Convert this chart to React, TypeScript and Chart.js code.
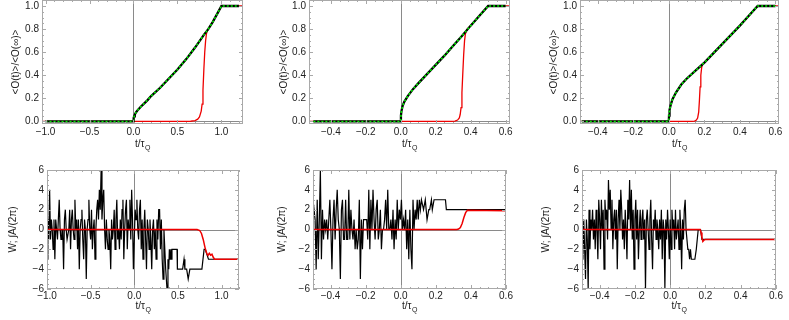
import React, { useEffect, useRef } from "react";
import { Chart, registerables } from "chart.js";
Chart.register(...registerables);

const FONT = "'Liberation Sans', Arial, sans-serif";
const TEXT = "#222222";
const FRAME = "#a9a9a9";
const AXIS = "#8a8a8a";
const RED = "#ee0000";
const GREEN = "#00ee00";
const BLACK = "#000000";

// ---------- tick labels ----------
const TOP_Y_TICKS = [0, 0.2, 0.4, 0.6, 0.8, 1.0];
const BOT_Y_TICKS = [-6, -4, -2, 0, 2, 4, 6];
const X_TICKS_WIDE = [-1.0, -0.5, 0, 0.5, 1.0];
const X_TICKS_NARROW = [-0.4, -0.2, 0, 0.2, 0.4, 0.6];

// ---------- top row: <O(t)>/<O(inf)> ----------
// panel 1
const T1_EXACT_T = [-1.0, 0, 0.001, 0.003, 0.008, 0.015, 0.03, 0.05, 0.08, 0.12, 0.16, 0.2, 0.3, 0.4, 0.5, 0.6, 0.7, 0.8, 0.85, 0.9, 0.95, 1.0, 1.2];
const T1_EXACT_V = [0, 0, 0.02, 0.03, 0.045, 0.06, 0.08, 0.1, 0.125, 0.155, 0.185, 0.22, 0.29, 0.37, 0.45, 0.54, 0.64, 0.75, 0.8, 0.86, 0.93, 1.0, 1.0];
const T1_SIM_T = [-1.05, 0.6, 0.65, 0.7, 0.73, 0.75, 0.77, 0.78, 0.79, 0.8, 0.81, 0.82, 0.83, 0.84, 0.85, 0.9, 0.95, 1.0, 1.25];
const T1_SIM_V = [0, 0, 0.002, 0.008, 0.02, 0.04, 0.09, 0.15, 0.27, 0.45, 0.6, 0.7, 0.76, 0.79, 0.8, 0.86, 0.93, 1.0, 1.0];

// panel 2
const T2_EXACT_T = [-0.5, 0, 0.001, 0.004, 0.01, 0.02, 0.04, 0.07, 0.1, 0.15, 0.2, 0.25, 0.3, 0.35, 0.4, 0.45, 0.5, 0.6];
const T2_EXACT_V = [0, 0, 0.05, 0.09, 0.13, 0.17, 0.22, 0.28, 0.33, 0.41, 0.49, 0.57, 0.655, 0.74, 0.83, 0.915, 1.0, 1.0];
const T2_SIM_T = [-0.53, 0.29, 0.31, 0.325, 0.335, 0.34, 0.345, 0.35, 0.355, 0.36, 0.365, 0.37, 0.38, 0.4, 0.45, 0.5, 0.63];
const T2_SIM_V = [0, 0, 0.003, 0.012, 0.03, 0.06, 0.12, 0.25, 0.42, 0.58, 0.7, 0.76, 0.8, 0.83, 0.915, 1.0, 1.0];

// panel 3
const T3_EXACT_T = [-0.49, 0, 0.001, 0.004, 0.01, 0.02, 0.04, 0.07, 0.1, 0.15, 0.2, 0.25, 0.3, 0.35, 0.4, 0.45, 0.5, 0.6];
const T3_EXACT_V = [0, 0, 0.05, 0.1, 0.14, 0.19, 0.25, 0.32, 0.37, 0.44, 0.51, 0.59, 0.67, 0.75, 0.83, 0.915, 1.0, 1.0];
const T3_SIM_T = [-0.5, 0.13, 0.145, 0.155, 0.162, 0.168, 0.172, 0.176, 0.18, 0.185, 0.19, 0.2, 0.25, 0.3, 0.35, 0.4, 0.45, 0.5, 0.62];
const T3_SIM_V = [0, 0, 0.003, 0.012, 0.03, 0.08, 0.18, 0.3, 0.4, 0.47, 0.495, 0.51, 0.59, 0.67, 0.75, 0.83, 0.915, 1.0, 1.0];

// ---------- bottom row: W and integral A/(2 pi) ----------
// panel 1: noisy winding number sampled every 0.01 from -1.00
const B1_NOISE_START = -1.0;
const B1_NOISE_STEP = 0.01;
const B1_NOISE = [
  -3, 1, -1, 4, -1, 1, 0, -2, 1, -3, 1, 0, -1, 1, 3, 0, -1, -1, 0, -4,
  1, 2, 0, -1, -1, 0, 2, -2, 1, 2, 0, -1, 3, 0, 1, -2, 1, -4, 0, 1,
  2, -1, -3, 1, 0, -5, 0, 1, 3, 0, -1, 2, -2, 0, 1, -3, 0, 2, 3, 1,
  4, 2, 6, 1, 3, 4, 0, -2, 1, -1, -2, 0, -1, -4, 1, -1, 0, 2, -2, 1,
  3, -1, 0, -2, 1, -1, 2, 3, -3, 0, 2, 3, -2, 1, 0, 3, -1, 4, 1, -4,
  -1, 2, 1, 3, 0, -1, 2, 3, -2, 1, -3, 0, 2, -1, -4, 1, 0, -2, 1, -1,
  -4, 0, 1, -2, 0, -3, 1, -1, 2, 2, -2, 1, -3, -5, 0, -2, -4,
];
const B1_TAIL_T = [0.375, 0.386, 0.395, 0.402, 0.41, 0.418, 0.425, 0.432, 0.49, 0.494, 0.554, 0.57, 0.58, 0.60, 0.618, 0.637, 0.775, 0.80, 0.813, 0.85, 1.2];
const B1_TAIL_V = [-6, -3, -4, -2, -3, -2, -3, -2, -2, -4, -4, -3, -4, -4, -5, -4, -4, -2, -2, -3, -3];
const B1_INT_T = [-1.0, 0.72, 0.75, 0.77, 0.79, 0.81, 0.83, 0.845, 0.86, 0.875, 0.89, 0.905, 0.92, 1.2];
const B1_INT_V = [0, 0, -0.1, -0.4, -1.0, -1.8, -2.4, -2.6, -2.4, -2.6, -2.5, -2.8, -3, -3];

// panel 2: sampled every 0.006 from -0.5
const B2_NOISE_START = -0.5;
const B2_NOISE_STEP = 0.006;
const B2_NOISE = [
  3, 2, 1, -4, 3, -3, 1, 6, -3, 2, -1, 1, 0, 1, -1, 1, 3, 0, -4, 1,
  3, -1, 2, 4, 1, 0, -5, 2, 3, -1, -1, 3, -1, -1, 4, -1, 2, 0, -1, 1,
  -2, 0, -2, -1, 3, -5, 1, -2, 1, 1, 1, 1, -1, 4, -2, 3, 0, 4, 1, -1,
  2, 3, -1, 0, 2, -2, 0, 0, 1, 3, 0, 4, 0, 0, 1, -1, 2, -2, 1, -1,
  3, 0, 2, 1, 3, 0, 1, 0, 2, -2, 1, -3, 2, -2, -4, 3, 0, 2, 1, 3,
  1, 3, 2, 3,
];
const B2_TAIL_T = [0.13, 0.14, 0.15, 0.16, 0.165, 0.175, 0.18, 0.19, 0.2, 0.255, 0.26, 0.6];
const B2_TAIL_V = [2, 3, 1, 2, 2, 3, 2, 3, 3, 3, 2, 2];
const B2_INT_T = [-0.5, 0.32, 0.33, 0.34, 0.35, 0.36, 0.37, 0.38, 0.6];
const B2_INT_V = [0, 0, 0.05, 0.2, 0.6, 1.2, 1.7, 1.93, 1.9];

// panel 3: sampled every 0.005 from -0.5
const B3_NOISE_START = -0.5;
const B3_NOISE_STEP = 0.005;
const B3_NOISE = [
  0, -3, 1, -2, -5, 1, -1, -6, 2, -2, 1, 0, 2, -1, 1, -2, 2, 0, -3, 3,
  1, -2, 3, 0, 2, -4, 3, 1, 2, -1, 5, 2, 4, 0, 3, -2, 1, 2, -1, 2,
  -4, 1, 3, 0, 4, 2, -1, 1, -2, 2, 0, -3, 3, 1, 5, 0, 4, -1, 2, -4,
  1, 3, -1, 2, -3, 0, 2, -1, 1, 2, -1, 1, -6, 1, 2, 0, -2, 1, 3, -1,
  -4, 1, 0, 2, -1, 1, 0, -2, 1, -1, 2, -3, 1, 0, -6, 1, -1, 2, 0, -3,
  1, -2, 2, 0, 1, -2, 2, -1, 0, 1, -2, 2, 0, -4, 1, -1, 2, 3, 0,
];
const B3_TAIL_T = [0.1, 0.105, 0.11, 0.115, 0.12, 0.14, 0.148, 0.159, 0.172, 0.18, 0.6];
const B3_TAIL_V = [-2, -2, -3, -2, -3, -3, -2, 0, 0, -1, -1];
const B3_INT_T = [-0.5, 0.17, 0.175, 0.18, 0.185, 0.19, 0.2, 0.6];
const B3_INT_V = [0, 0, -0.3, -0.8, -1.2, -1.1, -1, -1];

// ---------- helpers ----------
const pts = (xs: number[], ys: number[]) => xs.map((x, i) => ({ x, y: ys[i] }));
const sampled = (start: number, step: number, vals: number[]) =>
  vals.map((v, i) => ({ x: +(start + i * step).toFixed(4), y: v }));
const span = (a: number, b: number, step: number) => {
  const out: number[] = [];
  const n = Math.round((b - a) / step);
  for (let i = 0; i <= n; i++) out.push(+(a + i * step).toFixed(4));
  return out;
};
const fmt = (v: number, d: number) => {
  const s = Math.abs(v).toFixed(d);
  return (v < -1e-9 ? "\u2212" : "") + s;
};

type Panel = {
  L: number; R: number; T: number; B: number;
  xmin: number; xmax: number; ymin: number; ymax: number;
  xMajor: number[]; xMinor: number[]; yMajor: number[]; yMinor: number[];
  xDec: number; yDec: number;
  yTitle: string; yTitleX: number; xTitleDy: number; xTickPad: number;
  datasets: any[];
};

const topSets = (exT: number[], exV: number[], siT: number[], siV: number[]) => [
  { data: pts(exT, exV), borderColor: GREEN, borderWidth: 1.6, borderDash: [2, 2] },
  { data: pts(exT, exV), borderColor: BLACK, borderWidth: 2.3 },
  { data: pts(siT, siV), borderColor: RED, borderWidth: 1.3 },
];
const botSets = (noise: any[], tT: number[], tV: number[], iT: number[], iV: number[]) => [
  { data: pts(iT, iV), borderColor: RED, borderWidth: 1.5 },
  { data: [...noise, ...pts(tT, tV)], borderColor: BLACK, borderWidth: 1.2 },
];

const TOP_Y_MINOR = span(-0.0, 1.05, 0.05);
const BOT_Y_MINOR = span(-6, 6, 0.5);

const PANELS: Panel[] = [
  {
    L: 42, R: 243, T: 0, B: 124, xmin: -1.04, xmax: 1.245, ymin: -0.022, ymax: 1.052,
    xMajor: X_TICKS_WIDE, xMinor: span(-1.0, 1.2, 0.1), yMajor: TOP_Y_TICKS, yMinor: TOP_Y_MINOR,
    xDec: 1, yDec: 1, yTitle: "<O(t)>/<O(\u221e)>", yTitleX: 16, xTitleDy: 23, xTickPad: 2,
    datasets: topSets(T1_EXACT_T, T1_EXACT_V, T1_SIM_T, T1_SIM_V),
  },
  {
    L: 309, R: 510, T: 0, B: 124, xmin: -0.525, xmax: 0.625, ymin: -0.022, ymax: 1.052,
    xMajor: X_TICKS_NARROW, xMinor: span(-0.5, 0.6, 0.05), yMajor: TOP_Y_TICKS, yMinor: TOP_Y_MINOR,
    xDec: 1, yDec: 1, yTitle: "<O(t)>/<O(\u221e)>", yTitleX: 284, xTitleDy: 23, xTickPad: 2,
    datasets: topSets(T2_EXACT_T, T2_EXACT_V, T2_SIM_T, T2_SIM_V),
  },
  {
    L: 580, R: 779, T: 0, B: 124, xmin: -0.5, xmax: 0.62, ymin: -0.022, ymax: 1.052,
    xMajor: X_TICKS_NARROW, xMinor: span(-0.5, 0.6, 0.05), yMajor: TOP_Y_TICKS, yMinor: TOP_Y_MINOR,
    xDec: 1, yDec: 1, yTitle: "<O(t)>/<O(\u221e)>", yTitleX: 554, xTitleDy: 23, xTickPad: 2,
    datasets: topSets(T3_EXACT_T, T3_EXACT_V, T3_SIM_T, T3_SIM_V),
  },
  {
    L: 47, R: 239, T: 170, B: 289, xmin: -1.0, xmax: 1.2, ymin: -6, ymax: 6,
    xMajor: X_TICKS_WIDE, xMinor: span(-1.0, 1.2, 0.1), yMajor: BOT_Y_TICKS, yMinor: BOT_Y_MINOR,
    xDec: 1, yDec: 0, yTitle: "W; \u222bA/(2\u03c0)", yTitleX: 13, xTitleDy: 20, xTickPad: 1,
    datasets: botSets(sampled(B1_NOISE_START, B1_NOISE_STEP, B1_NOISE), B1_TAIL_T, B1_TAIL_V, B1_INT_T, B1_INT_V),
  },
  {
    L: 313, R: 506, T: 170, B: 289, xmin: -0.5, xmax: 0.6, ymin: -6, ymax: 6,
    xMajor: X_TICKS_NARROW, xMinor: span(-0.5, 0.6, 0.05), yMajor: BOT_Y_TICKS, yMinor: BOT_Y_MINOR,
    xDec: 1, yDec: 0, yTitle: "W; \u222bA/(2\u03c0)", yTitleX: 282, xTitleDy: 20, xTickPad: 1,
    datasets: botSets(sampled(B2_NOISE_START, B2_NOISE_STEP, B2_NOISE), B2_TAIL_T, B2_TAIL_V, B2_INT_T, B2_INT_V),
  },
  {
    L: 582, R: 776, T: 170, B: 289, xmin: -0.5, xmax: 0.6, ymin: -6, ymax: 6,
    xMajor: X_TICKS_NARROW, xMinor: span(-0.5, 0.6, 0.05), yMajor: BOT_Y_TICKS, yMinor: BOT_Y_MINOR,
    xDec: 1, yDec: 0, yTitle: "W; \u222bA/(2\u03c0)", yTitleX: 546, xTitleDy: 20, xTickPad: 1,
    datasets: botSets(sampled(B3_NOISE_START, B3_NOISE_STEP, B3_NOISE), B3_TAIL_T, B3_TAIL_V, B3_INT_T, B3_INT_V),
  },
];

const PAD_L = 20, Y_W = 40, PAD_T = 20, PAD_R = 30, X_H = 30, PAD_B = 15;

function makeDecor(p: Panel, canvasLeft: number) {
  return {
    id: "decor",
    beforeDatasetsDraw(chart: any) {
      const { ctx, chartArea: a, scales } = chart;
      const x = scales.x, y = scales.y;
      ctx.save();
      ctx.strokeStyle = AXIS;
      ctx.lineWidth = 1;
      ctx.beginPath();
      const x0 = Math.round(x.getPixelForValue(0)) + 0.5;
      ctx.moveTo(x0, a.top);
      ctx.lineTo(x0, a.bottom);
      const y0 = Math.round(y.getPixelForValue(0)) + 0.5;
      if (y0 >= a.top && y0 <= a.bottom) {
        ctx.moveTo(a.left, y0);
        ctx.lineTo(a.right, y0);
      }
      ctx.stroke();
      ctx.restore();
    },
    afterDatasetsDraw(chart: any) {
      const { ctx, chartArea: a, scales } = chart;
      const x = scales.x, y = scales.y;
      ctx.save();
      ctx.strokeStyle = FRAME;
      ctx.lineWidth = 1;
      ctx.strokeRect(a.left + 0.5, a.top + 0.5, a.right - a.left - 1, a.bottom - a.top - 1);
      ctx.beginPath();
      const xt = (vals: number[], len: number) => {
        vals.forEach((v) => {
          if (v < p.xmin || v > p.xmax) return;
          const px = Math.round(x.getPixelForValue(v)) + 0.5;
          ctx.moveTo(px, a.bottom);
          ctx.lineTo(px, a.bottom - len);
          ctx.moveTo(px, a.top);
          ctx.lineTo(px, a.top + len);
        });
      };
      const yt = (vals: number[], len: number) => {
        vals.forEach((v) => {
          if (v < p.ymin || v > p.ymax) return;
          const py = Math.round(y.getPixelForValue(v)) + 0.5;
          ctx.moveTo(a.left, py);
          ctx.lineTo(a.left + len, py);
          ctx.moveTo(a.right, py);
          ctx.lineTo(a.right - len, py);
        });
      };
      xt(p.xMajor, 4);
      xt(p.xMinor.filter((v) => !p.xMajor.some((m) => Math.abs(m - v) < 1e-6)), 2);
      yt(p.yMajor, 4);
      yt(p.yMinor.filter((v) => !p.yMajor.some((m) => Math.abs(m - v) < 1e-6)), 2);
      ctx.stroke();
      ctx.restore();
    },
    afterDraw(chart: any) {
      const { ctx, chartArea: a } = chart;
      ctx.save();
      ctx.fillStyle = TEXT;
      // x title  t/τ_Q
      const main = "t/\u03c4";
      const sub = "Q";
      ctx.font = `10px ${FONT}`;
      const w1 = ctx.measureText(main).width;
      ctx.font = `7px ${FONT}`;
      const w2 = ctx.measureText(sub).width;
      const cx = (a.left + a.right) / 2;
      const sx = cx - (w1 + w2) / 2;
      const by = a.bottom + p.xTitleDy;
      ctx.textAlign = "left";
      ctx.textBaseline = "alphabetic";
      ctx.font = `10px ${FONT}`;
      ctx.fillText(main, sx, by);
      ctx.font = `7px ${FONT}`;
      ctx.fillText(sub, sx + w1 + 0.5, by + 3);
      // y title
      ctx.font = `10px ${FONT}`;
      ctx.translate(p.yTitleX - canvasLeft, (a.top + a.bottom) / 2);
      ctx.rotate(-Math.PI / 2);
      ctx.textAlign = "center";
      ctx.textBaseline = "middle";
      ctx.fillText(p.yTitle, 0, 0);
      ctx.restore();
    },
  };
}

function PanelChart({ p }: { p: Panel }) {
  const ref = useRef<HTMLCanvasElement | null>(null);
  const canvasLeft = p.L - PAD_L - Y_W;
  const canvasTop = p.T - PAD_T;
  const width = p.R - p.L + PAD_L + Y_W + PAD_R;
  const height = p.B - p.T + PAD_T + X_H + PAD_B;
  useEffect(() => {
    if (!ref.current) return;
    const chart = new Chart(ref.current, {
      type: "line",
      data: {
        datasets: p.datasets.map((d) => ({
          ...d,
          pointRadius: 0,
          tension: 0,
          fill: false,
        })),
      },
      options: {
        animation: false,
        responsive: false,
        devicePixelRatio: 1,
        layout: { padding: { left: PAD_L, top: PAD_T, right: PAD_R, bottom: PAD_B } },
        plugins: { legend: { display: false }, tooltip: { enabled: false }, title: { display: false } },
        scales: {
          x: {
            type: "linear",
            min: p.xmin,
            max: p.xmax,
            grid: { display: false, drawTicks: false },
            border: { display: false },
            ticks: {
              autoSkip: false,
              maxRotation: 0,
              padding: p.xTickPad,
              color: TEXT,
              font: { family: FONT, size: 10 },
              callback: (v: any) => fmt(Number(v), p.xDec),
            },
            afterBuildTicks: (s: any) => {
              s.ticks = p.xMajor.map((v) => ({ value: v }));
            },
            afterFit: (s: any) => {
              s.height = X_H;
            },
          },
          y: {
            type: "linear",
            min: p.ymin,
            max: p.ymax,
            grid: { display: false, drawTicks: false },
            border: { display: false },
            ticks: {
              autoSkip: false,
              padding: 3,
              color: TEXT,
              font: { family: FONT, size: 10 },
              callback: (v: any) => fmt(Number(v), p.yDec),
            },
            afterBuildTicks: (s: any) => {
              s.ticks = p.yMajor.map((v) => ({ value: v }));
            },
            afterFit: (s: any) => {
              s.width = Y_W;
            },
          },
        },
      } as any,
      plugins: [makeDecor(p, canvasLeft)],
    });
    return () => chart.destroy();
  }, []);
  return (
    <canvas
      ref={ref}
      width={width}
      height={height}
      style={{ position: "absolute", left: canvasLeft, top: canvasTop, width, height }}
    />
  );
}

export default function App() {
  return (
    <div
      style={{
        position: "fixed",
        left: 0,
        top: 0,
        width: 789,
        height: 320,
        overflow: "hidden",
        background: "#ffffff",
      }}
    >
      {PANELS.map((p, i) => (
        <PanelChart key={i} p={p} />
      ))}
    </div>
  );
}
